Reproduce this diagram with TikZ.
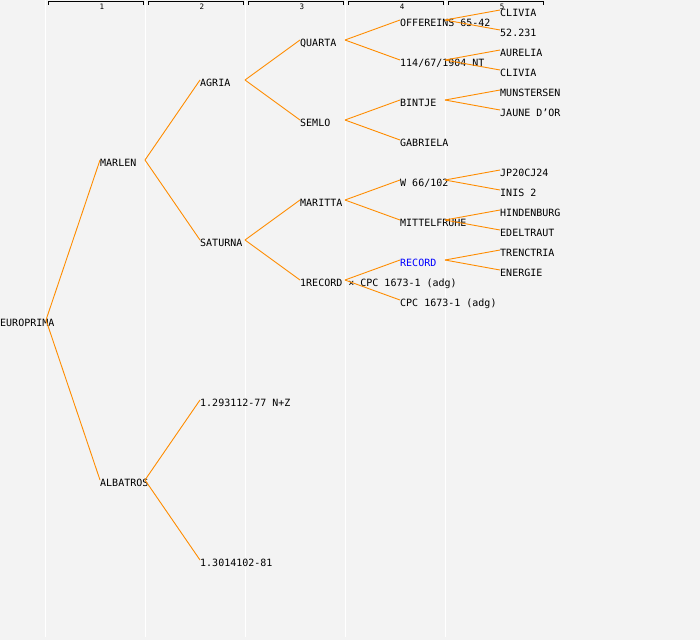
\documentclass[tikz,border=0pt]{standalone}
\usepackage{fontspec}
\setmonofont{DejaVu Sans Mono}
\usepackage{tikz}
\usetikzlibrary{positioning,calc}
\definecolor{bgpanel}{HTML}{F3F3F3}
\definecolor{linkorange}{HTML}{FF8C00}
\definecolor{recblue}{HTML}{0000FF}

\begin{document}
\begin{tikzpicture}[
    x=1pt, y=-1pt,
    % Styles
    person/.style={anchor=west, inner sep=0pt, text height=12pt, text depth=0pt, font=\ttfamily\fontsize{10}{12}\selectfont},
    colhead/.style={inner sep=0pt, font=\ttfamily\fontsize{7.5}{7.5}\selectfont},
    bracket/.style={draw=black, line width=0.9pt},
    sep/.style={draw=white, line width=1pt},
    % Connectors
    link/.style={draw=linkorange, line width=0.9pt}
]

% === BACKGROUND ===
\fill[bgpanel] (0,0) rectangle (700,640);
\useasboundingbox (0,0) rectangle (700,640);

% === COLUMN SEPARATORS ===
\draw[sep] (45,0) -- (45,637);
\draw[sep] (145,0) -- (145,637);
\draw[sep] (245,0) -- (245,637);
\draw[sep] (345,0) -- (345,637);
\draw[sep] (445,0) -- (445,637);

% === GENERATION HEADERS ===
\draw[bracket] (48,4.5) -- (48,1.7) -- (143,1.7) -- (143,4.5);
\draw[bracket] (148,4.5) -- (148,1.7) -- (243,1.7) -- (243,4.5);
\draw[bracket] (248,4.5) -- (248,1.7) -- (343,1.7) -- (343,4.5);
\draw[bracket] (348,4.5) -- (348,1.7) -- (443,1.7) -- (443,4.5);
\draw[bracket] (448,4.5) -- (448,1.7) -- (543,1.7) -- (543,4.5);
\node[colhead] (g1) at (102,6.5) {1};
\node[colhead] (g2) at (202,6.5) {2};
\node[colhead] (g3) at (302,6.5) {3};
\node[colhead] (g4) at (402,6.5) {4};
\node[colhead] (g5) at (502,6.5) {5};

% === ROOT ===
\node[person] (europrima) at (0,320) {EUROPRIMA};

% === GENERATION 1 ===
\node[person] (marlen) at (100,160) {MARLEN};
\node[person] (albatros) at (100,480) {ALBATROS};

% === GENERATION 2 ===
\node[person] (agria) at (200,80) {AGRIA};
\node[person] (saturna) at (200,240) {SATURNA};
\node[person] (nz) at (200,400) {1.293112-77 N+Z};
\node[person] (r81) at (200,560) {1.3014102-81};

% === GENERATION 3 ===
\node[person] (quarta) at (300,40) {QUARTA};
\node[person] (semlo) at (300,120) {SEMLO};
\node[person] (maritta) at (300,200) {MARITTA};
\node[person] (record1) at (300,280) {1RECORD × CPC 1673-1 (adg)};

% === GENERATION 4 ===
\node[person] (offereins) at (400,20) {OFFEREINS 65-42};
\node[person] (nt114) at (400,60) {114/67/1904 NT};
\node[person] (bintje) at (400,100) {BINTJE};
\node[person] (gabriela) at (400,140) {GABRIELA};
\node[person] (w66) at (400,180) {W 66/102};
\node[person] (mittelfruhe) at (400,220) {MITTELFRUHE};
\node[person, text=recblue] (record) at (400,260) {RECORD};
\node[person] (cpc) at (400,300) {CPC 1673-1 (adg)};

% === GENERATION 5 ===
\node[person] (clivia) at (500,10) {CLIVIA};
\node[person] (s52) at (500,30) {52.231};
\node[person] (aurelia) at (500,50) {AURELIA};
\node[person] (clivia2) at (500,70) {CLIVIA};
\node[person] (munstersen) at (500,90) {MUNSTERSEN};
\node[person] (jaune) at (500,110) {JAUNE D’OR};
\node[person] (jp20) at (500,170) {JP20CJ24};
\node[person] (inis) at (500,190) {INIS 2};
\node[person] (hindenburg) at (500,210) {HINDENBURG};
\node[person] (edeltraut) at (500,230) {EDELTRAUT};
\node[person] (trenctria) at (500,250) {TRENCTRIA};
\node[person] (energie) at (500,270) {ENERGIE};

% === CONNECTIONS ===
\draw[link] ([xshift=46pt]europrima.west) -- (marlen.west);
\draw[link] ([xshift=46pt]europrima.west) -- (albatros.west);
\draw[link] ([xshift=45pt]marlen.west) -- (agria.west);
\draw[link] ([xshift=45pt]marlen.west) -- (saturna.west);
\draw[link] ([xshift=45pt]albatros.west) -- (nz.west);
\draw[link] ([xshift=45pt]albatros.west) -- (r81.west);
\draw[link] ([xshift=45pt]agria.west) -- (quarta.west);
\draw[link] ([xshift=45pt]agria.west) -- (semlo.west);
\draw[link] ([xshift=45pt]saturna.west) -- (maritta.west);
\draw[link] ([xshift=45pt]saturna.west) -- (record1.west);
\draw[link] ([xshift=45pt]quarta.west) -- (offereins.west);
\draw[link] ([xshift=45pt]quarta.west) -- (nt114.west);
\draw[link] ([xshift=45pt]semlo.west) -- (bintje.west);
\draw[link] ([xshift=45pt]semlo.west) -- (gabriela.west);
\draw[link] ([xshift=45pt]maritta.west) -- (w66.west);
\draw[link] ([xshift=45pt]maritta.west) -- (mittelfruhe.west);
\draw[link] ([xshift=45pt]record1.west) -- (record.west);
\draw[link] ([xshift=45pt]record1.west) -- (cpc.west);
\draw[link] ([xshift=45pt]offereins.west) -- (clivia.west);
\draw[link] ([xshift=45pt]offereins.west) -- (s52.west);
\draw[link] ([xshift=45pt]nt114.west) -- (aurelia.west);
\draw[link] ([xshift=45pt]nt114.west) -- (clivia2.west);
\draw[link] ([xshift=45pt]bintje.west) -- (munstersen.west);
\draw[link] ([xshift=45pt]bintje.west) -- (jaune.west);
\draw[link] ([xshift=45pt]w66.west) -- (jp20.west);
\draw[link] ([xshift=45pt]w66.west) -- (inis.west);
\draw[link] ([xshift=45pt]mittelfruhe.west) -- (hindenburg.west);
\draw[link] ([xshift=45pt]mittelfruhe.west) -- (edeltraut.west);
\draw[link] ([xshift=45pt]record.west) -- (trenctria.west);
\draw[link] ([xshift=45pt]record.west) -- (energie.west);

\end{tikzpicture}
\end{document}
